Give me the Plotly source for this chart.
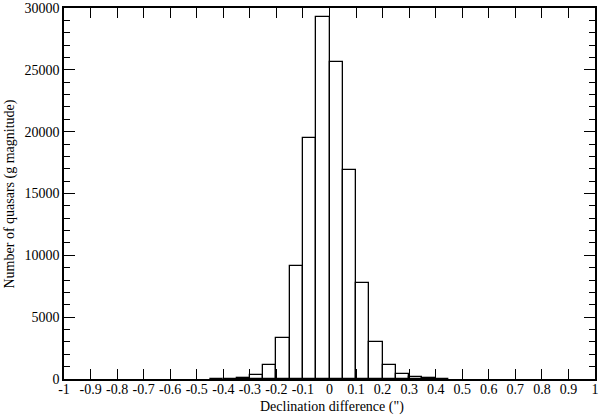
import plotly.graph_objects as go

bin_left = [-0.45, -0.40, -0.35, -0.30, -0.25, -0.20, -0.15, -0.10, -0.05,
            0.00, 0.05, 0.10, 0.15, 0.20, 0.25, 0.30, 0.35, 0.40]
counts = [10, 30, 110, 330, 1100, 3320, 9150, 19450, 29290,
          25650, 16940, 7800, 3000, 1120, 390, 160, 70, 20]
bin_width = 0.05

x_tick_vals = [-1, -0.9, -0.8, -0.7, -0.6, -0.5, -0.4, -0.3, -0.2, -0.1, 0,
               0.1, 0.2, 0.3, 0.4, 0.5, 0.6, 0.7, 0.8, 0.9, 1]
x_tick_text = ["-1", "-0.9", "-0.8", "-0.7", "-0.6", "-0.5", "-0.4", "-0.3", "-0.2", "-0.1", "0",
               "0.1", "0.2", "0.3", "0.4", "0.5", "0.6", "0.7", "0.8", "0.9", "1"]
y_tick_vals = [0, 5000, 10000, 15000, 20000, 25000, 30000]
y_tick_text = ["0", "5000", "10000", "15000", "20000", "25000", "30000"]
x_title = "Declination difference (\")"
y_title = "Number of quasars (g magnitude)"

centers = [b + bin_width / 2 for b in bin_left]

font = dict(family="Liberation Serif, Times New Roman, serif", size=14, color="black")

fig = go.Figure(go.Bar(
    x=centers, y=counts, width=bin_width,
    marker=dict(color="white", line=dict(color="black", width=1.3)),
))

fig.update_layout(
    width=600, height=415,
    margin=dict(l=64, r=5, t=8, b=36),
    paper_bgcolor="white", plot_bgcolor="white",
    font=font, showlegend=False, bargap=0,
    annotations=[
        dict(text=x_title, xref="paper", yref="paper", x=0.5, y=0,
             xanchor="center", yanchor="middle", xshift=2, yshift=-28,
             showarrow=False, font=font),
        dict(text=y_title, xref="paper", yref="paper", x=0, y=0.5,
             xanchor="center", yanchor="middle", xshift=-55, yshift=-1,
             textangle=-90, showarrow=False, font=font),
    ],
)
fig.update_xaxes(
    range=[-1, 1], tickvals=x_tick_vals, ticktext=x_tick_text,
    ticks="inside", ticklen=10, tickwidth=1, tickcolor="black",
    ticklabelstandoff=-4,
    showline=True, linecolor="black", linewidth=1.5, mirror="ticks",
    showgrid=False, zeroline=False, automargin=False,
)
fig.update_yaxes(
    range=[0, 30000], tickvals=y_tick_vals, ticktext=y_tick_text,
    ticks="inside", ticklen=11, tickwidth=1, tickcolor="black",
    minor=dict(dtick=1000, ticks="inside", ticklen=6, tickcolor="black", tickwidth=1, showgrid=False),
    showline=True, linecolor="black", linewidth=1.5, mirror="ticks",
    showgrid=False, zeroline=False, automargin=False,
)

fig.write_html("out.html", config={"displayModeBar": False},
               post_script="document.body.style.margin='0';")
